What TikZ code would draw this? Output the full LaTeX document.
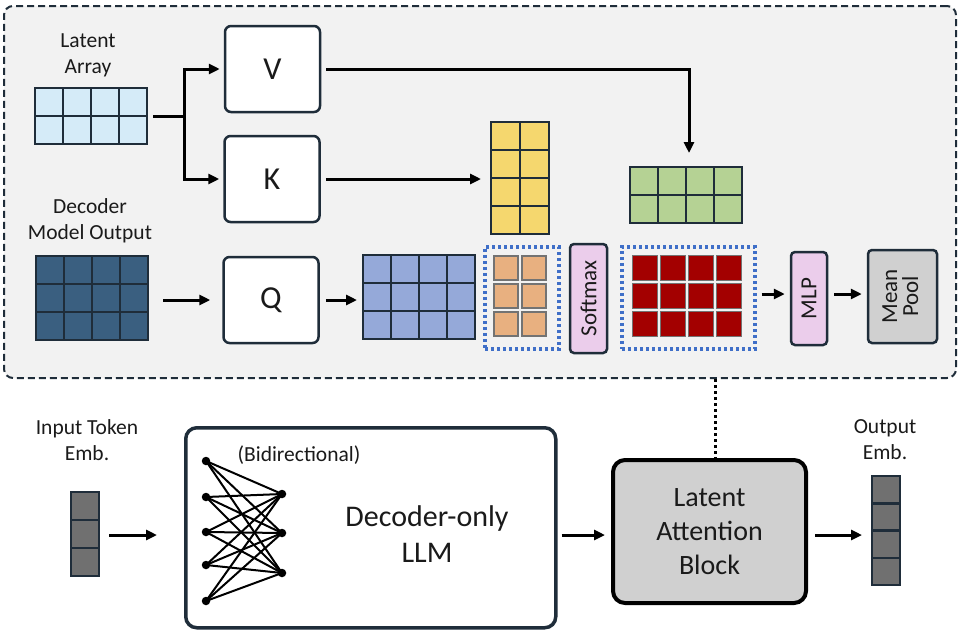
\documentclass[tikz,border=0pt]{standalone}
\usepackage{fontspec}
\setmainfont{Carlito}
\usepackage{graphicx}
\usetikzlibrary{arrows.meta}
\definecolor{navy}{HTML}{1F2D3A}
\definecolor{bgc}{HTML}{F2F2F2}
\definecolor{latc}{HTML}{D5EBF8}
\definecolor{darkc}{HTML}{3A5F80}
\definecolor{purc}{HTML}{95A9D9}
\definecolor{yelc}{HTML}{F5D76E}
\definecolor{grnc}{HTML}{B5D294}
\definecolor{orac}{HTML}{E8B080}
\definecolor{redc}{HTML}{A30000}
\definecolor{grayc}{HTML}{707070}
\definecolor{pinkc}{HTML}{EBCDEB}
\definecolor{boxg}{HTML}{D0D0D0}
\definecolor{dotblue}{HTML}{3F6FC8}
\definecolor{txt}{HTML}{1A1A1A}
\newcommand{\cellgrid}[9]{%
  \foreach \c in {0,...,#4}{\foreach \r in {0,...,#5}{%
    \draw[#9] ({#2+\c*#6+#8},{#3+\r*#7+#8}) rectangle ({#2+(\c+1)*#6-#8},{#3+(\r+1)*#7-#8});}}%
  \node[inner sep=0pt, outer sep=0pt, minimum width={(#4+1)*#6*1pt}, minimum height={(#5+1)*#7*1pt}, anchor=north west] (#1) at (#2,#3) {};}
\begin{document}
\begin{tikzpicture}[x=1pt,y=-1pt,
  every node/.style={text=txt},
  basefont/.style={font=\fontsize{21.5}{26}\selectfont, align=center},
  qkv/.style={draw=navy, line width=2.5pt, rounded corners=6pt, fill=white, minimum width=95pt, minimum height=86pt, font=\fontsize{32}{36}\selectfont},
  cellA/.style={draw=navy, line width=2.5pt},
  cellB/.style={draw=gray!90!black, line width=1.5pt},
  dotbox/.style={draw=dotblue, line width=3.5pt, dash pattern=on 3pt off 3pt, inner sep=0pt, anchor=north west},
  pinkbox/.style={draw=navy, line width=2.5pt, rounded corners=4pt, fill=pinkc, inner sep=0pt, font=\fontsize{23}{25}\selectfont},
  arr/.style={line width=3pt, draw=black, -{Triangle[length=11pt,width=10pt]}},
  conn/.style={line width=3pt, draw=black},
  dotn/.style={circle, fill=black, inner sep=0pt, minimum size=8.5pt}
]
\useasboundingbox (0,0) rectangle (960,632);
% outer dashed region
\node[draw=navy, line width=2pt, dash pattern=on 7pt off 4pt, rounded corners=9pt, fill=bgc, minimum width=952pt, minimum height=372pt, anchor=north west, inner sep=0pt] (outer) at (3,5) {};

% texts
\node[basefont] (latlabel) at (88,55) {Latent\\Array};
\node[basefont] (declabel) at (90,221) {Decoder\\Model Output};

% grids
\cellgrid{latent}{35}{88}{3}{1}{28}{28}{0}{cellA, fill=latc}
\cellgrid{dark}{36}{256}{3}{2}{28}{28}{0}{cellA, fill=darkc}
\cellgrid{purple}{363}{255}{3}{2}{28}{28}{0}{cellA, fill=purc}
\cellgrid{yellow}{491}{122}{1}{3}{29}{28}{0}{cellA, fill=yelc}
\cellgrid{green}{630}{167}{3}{1}{28}{28}{0}{cellA, fill=grnc}
\cellgrid{orange}{492}{254}{1}{2}{28}{28}{2}{cellB, fill=orac}
\cellgrid{red}{631}{254}{3}{2}{28}{28}{1.5}{cellB, fill=redc}

% V K Q boxes
\node[qkv] (V) at (272.5,69) {V};
\node[qkv] (K) at (272,179) {K};
\node[qkv] (Q) at (271,300) {Q};

% dotted boxes
\node[dotbox, minimum width=74pt, minimum height=102pt] (attnbox) at (483,245) {};
\node[dotbox, minimum width=133pt, minimum height=102pt] (redbox) at (620,245) {};

% softmax, MLP, mean pool
\node[pinkbox, minimum width=37pt, minimum height=109pt] (softmax) at (588.5,298.5) {\rotatebox{90}{Softmax}};
\node[pinkbox, minimum width=36pt, minimum height=93pt] (mlp) at (809,298.5) {\rotatebox{90}{MLP}};
\node[pinkbox, fill=boxg, minimum width=69pt, minimum height=93pt] (meanpool) at (902.5,296.5) {\rotatebox{90}{\begin{tabular}{@{}c@{}}Mean\\[-4pt]Pool\end{tabular}}};

% connectors top
\draw[conn] ([xshift=6pt]latent.east) -- ++(31,0) coordinate (branch);
\draw[arr, shorten >=4pt] (branch) |- (V.west);
\draw[arr, shorten >=4pt] (branch) |- (K.west);
\draw[arr, shorten <=5pt, shorten >=14pt] (V.east) -| ([xshift=3pt]green.north);
\draw[arr, shorten <=5pt] (K.east) -- ([xshift=-10pt]yellow.west |- K.east);
\draw[arr, shorten <=15pt, shorten >=12pt] (dark.east |- Q.west) -- (Q.west);
\draw[arr, shorten <=6pt, shorten >=6pt] (Q.east) -- (purple.west |- Q.east);
\draw[arr, shorten <=5pt, shorten >=5pt] (redbox.east |- 0,294) -- (mlp.west |- 0,294);
\draw[arr, shorten <=6pt, shorten >=5pt] (mlp.east |- 0,294) -- (meanpool.west |- 0,294);

% bottom
\node[basefont] (inlabel) at (87,440) {Input Token\\Emb.};
\node[basefont] (outlabel) at (885,440) {Output\\Emb.};
\cellgrid{ingrid}{71}{492}{0}{2}{28}{28}{0}{cellA, fill=grayc}
\cellgrid{outgrid}{872}{476}{0}{3}{28}{27.25}{0}{cellA, fill=grayc}

\node[draw=navy, line width=3.5pt, rounded corners=11pt, fill=white, minimum width=370pt, minimum height=200pt, anchor=north west, inner sep=0pt] (llm) at (184,426) {};
\node[font=\fontsize{21.5}{26}\selectfont] (bidir) at (299,455) {(Bidirectional)};
\node[font=\fontsize{30}{36}\selectfont, align=center] (llmtext) at (427,534) {Decoder-only\\LLM};

\foreach \i/\yy in {1/461,2/497,3/532,4/565,5/601} \coordinate (cl\i) at (206,\yy);
\foreach \j/\yy in {1/494,2/533,3/573} \coordinate (cr\j) at (282,\yy);
\foreach \i in {1,...,5}{\foreach \j in {1,2,3}{\draw[line width=2pt] (cl\i) -- (cr\j);}}
\foreach \i in {1,...,5} \node[dotn] (nl\i) at (cl\i) {};
\foreach \j in {1,2,3} \node[dotn] (nr\j) at (cr\j) {};

\node[draw=black, line width=4pt, rounded corners=12pt, fill=boxg, minimum width=193pt, minimum height=143pt, align=center, font=\fontsize{28}{34}\selectfont] (lab) at (709.5,531.5) {Latent\\Attention\\Block};

\draw[line width=3pt, dash pattern=on 3pt off 3pt] ([xshift=5.5pt]lab.north |- outer.south) -- ([xshift=5.5pt]lab.north);

\draw[arr, shorten <=10pt, shorten >=27pt] (ingrid.east |- 0,535) -- (llm.west |- 0,535);
\draw[arr, shorten <=4pt, shorten >=6pt] (llm.east |- 0,535) -- (lab.west |- 0,535);
\draw[arr, shorten <=7pt, shorten >=10pt] (lab.east |- 0,535) -- (outgrid.west |- 0,535);
\end{tikzpicture}
\end{document}
